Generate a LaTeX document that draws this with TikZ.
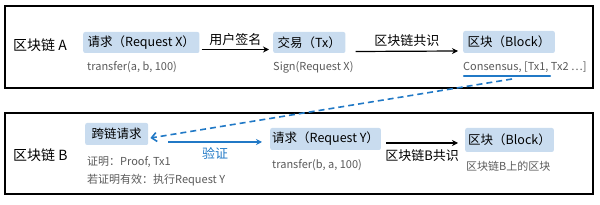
\documentclass[tikz,border=0pt]{standalone}
\usepackage{fontspec}
\setmainfont{Noto Sans CJK SC}
\usetikzlibrary{arrows.meta}
\definecolor{boxblue}{HTML}{C9DCEF}
\definecolor{linkblue}{HTML}{2179C6}
\definecolor{subgray}{HTML}{5A5A5A}
\tikzset{
  chainbox/.style={draw=black, line width=1.5pt},
  chainlabel/.style={anchor=west, inner sep=0pt, font=\fontsize{14}{16}\selectfont},
  blk/.style={fill=boxblue, rounded corners=2pt, inner xsep=4.5pt, inner ysep=0pt, anchor=west, font=\fontsize{12.5}{15}\selectfont},
  sub/.style={anchor=west, inner sep=0pt, text=subgray, font=\fontsize{11}{13}\selectfont},
  flow/.style={-{Stealth[length=6pt,width=6pt]}, line width=1.2pt},
  flowlabel/.style={inner sep=0pt, font=\fontsize{13}{15}\selectfont},
}
\begin{document}
\begin{tikzpicture}[x=1pt,y=-1pt]
\useasboundingbox (0,0) rectangle (600,205);
% chain frames
\draw[chainbox] (5,6) rectangle (593,88);
\draw[chainbox] (5,113) rectangle (593,194);
\node[chainlabel] (la) at (13,45) {区块链 A};
\node[chainlabel] (lb) at (13,155) {区块链 B};
% row A
\node[blk, minimum height=21pt] (reqx) at (83,42.5) {请求（Request X）};
\node[sub] (reqxs) at (87,67) {transfer(a, b, 100)};
\node[blk, minimum height=21pt] (tx) at (273,42.5) {交易（Tx）};
\node[sub] (txs) at (273,67) {Sign(Request X)};
\node[blk, minimum height=22pt] (blka) at (463,42) {区块（Block）};
\node[sub] (blkas) at (463,67) {Consensus, [Tx1, Tx2 ⋯]};
\coordinate (ulA) at (464,76);
\coordinate (ulB) at (550,76);
\draw[linkblue, line width=2.2pt, line cap=round] (ulA) -- (ulB);
\draw[flow] ([xshift=2pt,yshift=-7pt]reqx.east) -- node[flowlabel, above=3pt] (l1) {用户签名} ([xshift=-4pt,yshift=-7pt]tx.west);
\draw[flow] ([xshift=10pt,yshift=-9pt]tx.east) -- node[flowlabel, above=4pt] (l2) {区块链共识} ([xshift=-5pt,yshift=-9pt]blka.west);
% row B
\node[blk, minimum height=22pt, minimum width=63pt] (cross) at (85,134) {跨链请求};
\node[sub] (crs1) at (87,162) {证明：Proof, Tx1};
\node[sub] (crs2) at (87,180) {若证明有效：执行Request Y};
\node[blk, minimum height=22pt, inner xsep=2pt] (reqy) at (270,139) {请求（Request Y）};
\node[sub] (reqys) at (272,165) {transfer(b, a, 100)};
\node[blk, minimum height=24pt, inner xsep=3pt] (blkb) at (465,140) {区块（Block）};
\node[sub] (blkbs) at (466,166) {区块链B上的区块};
\coordinate (dstart) at (512,79);
\draw[linkblue, line width=1.6pt, dash pattern=on 6pt off 4pt, -{Straight Barb[length=5pt,width=9pt]}] (dstart) -- ([xshift=2pt,yshift=-4pt]cross.east);
\draw[linkblue, line width=1.2pt, -{Stealth[length=6pt,width=6pt]}] ([xshift=20pt,yshift=-8pt]cross.east) -- node[flowlabel, text=linkblue, below=5pt] (l3) {验证} ([xshift=-8pt,yshift=-3pt]reqy.west);
\draw[flow] ([xshift=5pt,yshift=-4pt]reqy.east) -- node[flowlabel, below=6pt] (l4) {区块链B共识} ([xshift=-7pt,yshift=-3pt]blkb.west);
\end{tikzpicture}
\end{document}
